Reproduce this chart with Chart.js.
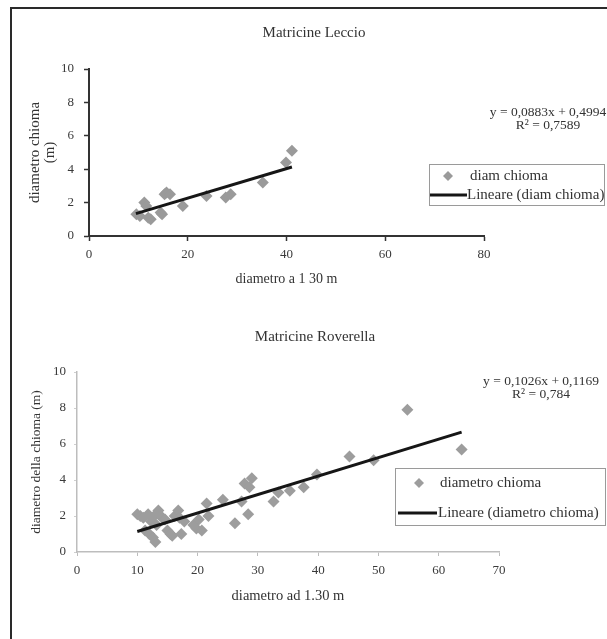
<!DOCTYPE html>
<html>
<head>
<meta charset="utf-8">
<title>Matricine</title>
<script src="https://cdn.jsdelivr.net/npm/chart.js@4.4.1/dist/chart.umd.min.js"></script>
<style>
    body { margin: 0; background: #fff; }
    #page { position: relative; width: 607px; height: 639px; overflow: hidden; }
    #page canvas { position: absolute; left: 0; }
    #frame { position: absolute; left: 10px; top: 7px; width: 700px; height: 700px; border-left: 2px solid #2a2a2a; border-top: 2px solid #2a2a2a; }
</style>
</head>
<body>
<div id="page">
    <canvas id="chart1" width="607" height="320" style="top:0"></canvas>
    <canvas id="chart2" width="607" height="319" style="top:320px"></canvas>
    <div id="frame"></div>
</div>
<script>
Chart.defaults.font.family = '"Liberation Serif", "Times New Roman", serif'
Chart.defaults.color = '#3a3a3a'

// Matricine Leccio
const leccioX = [9.6, 10.3, 11.2, 11.6, 12.0, 12.5, 14.5, 14.8, 15.3, 15.7, 16.4, 19.0, 23.8, 27.7, 28.7, 35.2, 39.9, 41.1]
const leccioY = [1.3, 1.2, 2.0, 1.8, 1.1, 1.0, 1.4, 1.3, 2.5, 2.6, 2.5, 1.8, 2.4, 2.3, 2.5, 3.2, 4.4, 5.1]
const leccioTrendX = [9.5, 41.1]
const leccioTrendY = [1.34, 4.13]
const leccioEq = ['y = 0,0883x + 0,4994', 'R² = 0,7589']

// Matricine Roverella
const roverellaX = [10, 10.5, 11, 11.3, 11.8, 12, 12.3, 12.6, 12.8, 13, 13.2, 13.5, 13.8, 14.2, 14.6, 15, 15.5, 15.8, 16.2, 16.8, 17, 17.3, 17.8, 19.3, 19.8, 20.2, 20.7, 21.5, 21.8, 24.2, 26.2, 27.3, 27.8, 28.4, 28.6, 29.0, 32.6, 33.4, 35.3, 37.6, 39.8, 45.2, 49.2, 54.8, 63.8]
const roverellaY = [2.1, 2.0, 1.9, 1.2, 2.1, 1.0, 1.7, 0.8, 2.0, 0.55, 1.5, 2.3, 2.0, 1.9, 1.8, 1.2, 1.0, 0.9, 2.0, 2.3, 1.9, 1.0, 1.7, 1.5, 1.3, 1.8, 1.2, 2.7, 2.0, 2.9, 1.6, 2.8, 3.8, 2.1, 3.6, 4.1, 2.8, 3.3, 3.4, 3.6, 4.3, 5.3, 5.1, 7.9, 5.7]
const roverellaTrendX = [10, 63.8]
const roverellaTrendY = [1.14, 6.66]
const roverellaEq = ['y = 0,1026x + 0,1169', 'R² = 0,784']


const toPoints = (xs, ys) => xs.map((x, i) => ({ x, y: ys[i] }))


// title, equation and legend box, drawn over the chart
const decor = {
    id: 'decor',
    afterDraw(chart, args, o) {
        const ctx = chart.ctx
        ctx.save()
        ctx.fillStyle = '#333'
        ctx.textAlign = 'center'
        ctx.textBaseline = 'middle'
        ctx.font = '15px "Liberation Serif"'
        ctx.fillText(o.title, o.titleX, o.titleY)

        ctx.font = '13.5px "Liberation Serif"'
        o.eq.forEach((t, i) => ctx.fillText(t, o.eqX, o.eqY[i]))

        const b = o.box
        ctx.strokeStyle = '#9a9a9a'
        ctx.lineWidth = 1
        ctx.strokeRect(b.x + 0.5, b.y + 0.5, b.w, b.h)

        const [points, trend] = chart.data.datasets
        ctx.textAlign = 'left'
        ctx.font = '15px "Liberation Serif"'

        // marker row
        const r = 5
        ctx.fillStyle = points.backgroundColor
        ctx.beginPath()
        ctx.moveTo(b.markerX - r, b.row1)
        ctx.lineTo(b.markerX, b.row1 - r)
        ctx.lineTo(b.markerX + r, b.row1)
        ctx.lineTo(b.markerX, b.row1 + r)
        ctx.closePath()
        ctx.fill()
        ctx.fillStyle = '#333'
        ctx.fillText(points.label, b.text1, b.row1)

        // line row
        ctx.strokeStyle = trend.borderColor
        ctx.lineWidth = 3
        ctx.beginPath()
        ctx.moveTo(b.lineX1, b.row2)
        ctx.lineTo(b.lineX2, b.row2)
        ctx.stroke()
        ctx.fillText(trend.label, b.text2, b.row2)
        ctx.restore()
    }
}


function leccioChart() {

    let data = {
        datasets: [
            {
                label: 'diam chioma',
                data: toPoints(leccioX, leccioY),
                pointStyle: 'rectRot',
                pointRadius: 6,
                borderWidth: 0,
                backgroundColor: '#9a9a9a',
                order: 2
            },
            {
                type: 'line',
                label: 'Lineare (diam chioma)',
                data: toPoints(leccioTrendX, leccioTrendY),
                borderColor: '#161616',
                borderWidth: 3,
                pointRadius: 0,
                order: 1
            }
        ]
    }

    let options = {
        responsive: false,
        animation: false,
        layout: { padding: { top: 69, right: 123, left: 0, bottom: 0 } },
        plugins: {
            legend: { display: false },
            tooltip: { enabled: false },
            decor: {
                title: 'Matricine Leccio', titleX: 314, titleY: 33,
                eq: leccioEq, eqX: 548, eqY: [112, 125],
                box: { x: 429, y: 164, w: 175, h: 41, row1: 176, row2: 195, markerX: 448, text1: 470, lineX1: 430, lineX2: 467, text2: 467 }
            }
        },
        scales: {
            x: {
                type: 'linear', min: 0, max: 80,
                ticks: { stepSize: 20, padding: 6, font: { size: 13 }, maxRotation: 0 },
                grid: { drawOnChartArea: false, tickLength: 5, color: '#333', tickWidth: 1.5 },
                border: { color: '#333', width: 2 },
                title: { display: true, text: 'diametro a 1 30 m', color: '#333', font: { size: 14, lineHeight: 1 }, padding: { top: 0, bottom: 34 } },
                afterFit: s => { s.height = 84 }
            },
            y: {
                min: 0, max: 10,
                ticks: { stepSize: 2, padding: 10, font: { size: 13 } },
                grid: { drawOnChartArea: false, tickLength: 5, color: '#333', tickWidth: 1.5 },
                border: { color: '#333', width: 2 },
                title: { display: true, text: ['diametro chioma', '(m)'], color: '#333', font: { size: 15, lineHeight: 1 }, padding: { top: 27.5, bottom: 0 } },
                afterFit: s => { s.width = 89 }
            }
        }
    }

    new Chart('chart1', { type: 'scatter', data, options, plugins: [decor] })
}


function roverellaChart() {

    let data = {
        datasets: [
            {
                label: 'diametro chioma',
                data: toPoints(roverellaX, roverellaY),
                pointStyle: 'rectRot',
                pointRadius: 6,
                borderWidth: 0,
                backgroundColor: '#9d9d9d',
                order: 2
            },
            {
                type: 'line',
                label: 'Lineare (diametro chioma)',
                data: toPoints(roverellaTrendX, roverellaTrendY),
                borderColor: '#161616',
                borderWidth: 3,
                pointRadius: 0,
                order: 1
            }
        ]
    }

    let options = {
        responsive: false,
        animation: false,
        layout: { padding: { top: 52, right: 108, left: 0, bottom: 0 } },
        plugins: {
            legend: { display: false },
            tooltip: { enabled: false },
            decor: {
                title: 'Matricine Roverella', titleX: 315, titleY: 17,
                eq: roverellaEq, eqX: 541, eqY: [61, 74],
                box: { x: 395, y: 148, w: 210, h: 57, row1: 163, row2: 193, markerX: 419, text1: 440, lineX1: 398, lineX2: 437, text2: 438 }
            }
        },
        scales: {
            x: {
                type: 'linear', min: 0, max: 70,
                ticks: { stepSize: 10, padding: 7, font: { size: 13 }, maxRotation: 0 },
                grid: { drawOnChartArea: false, tickLength: 4, color: '#bdbdbd', tickWidth: 1 },
                border: { color: '#bdbdbd', width: 1.5 },
                title: { display: true, text: 'diametro ad 1.30 m', color: '#333', font: { size: 14.5, lineHeight: 1 }, padding: { top: 0, bottom: 35.75 } },
                afterFit: s => { s.height = 87 }
            },
            y: {
                min: 0, max: 10,
                ticks: { stepSize: 2, padding: 8, font: { size: 13 } },
                grid: { drawOnChartArea: false, tickLength: 3, color: '#cfcfcf', tickWidth: 1 },
                border: { color: '#bdbdbd', width: 1.5 },
                title: { display: true, text: 'diametro della chioma (m)', color: '#333', font: { size: 13.5, lineHeight: 1 }, padding: { top: 30, bottom: 0 } },
                afterFit: s => { s.width = 77 }
            }
        }
    }

    new Chart('chart2', { type: 'scatter', data, options, plugins: [decor] })
}


leccioChart()
roverellaChart()
</script>
</body>
</html>
